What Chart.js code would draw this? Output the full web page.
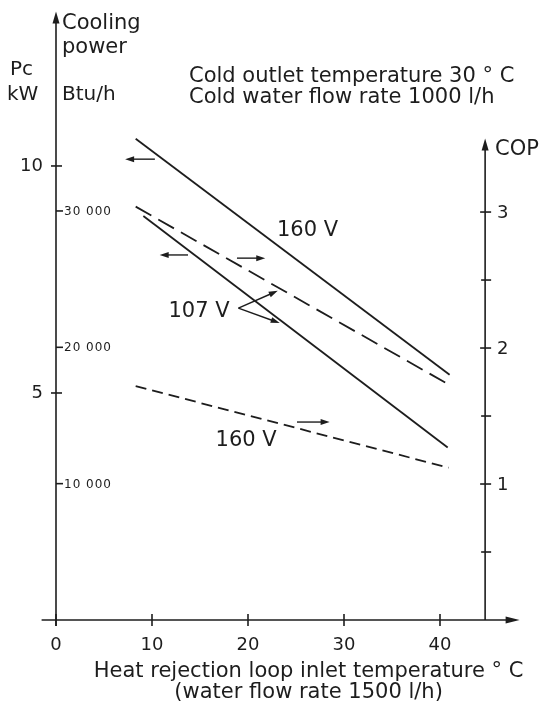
<!DOCTYPE html>
<html>
<head>
<meta charset="utf-8">
<script src="https://cdn.jsdelivr.net/npm/chart.js@4.4.0/dist/chart.umd.min.js"></script>
<style>
  html, body { margin: 0; padding: 0; background: #fff; }
  #wrap { width: 542px; height: 705px; }
</style>
</head>
<body>
<div id="wrap"><canvas id="chart" width="542" height="705"></canvas></div>
<script>
// Heat rejection loop inlet temperature (°C) -> cooling power (kW) / COP
const pc160Temp = [8.3, 41.0];
const pc160Kw = [10.6, 5.4];
const pc107Temp = [9.1, 40.8];
const pc107Kw = [8.9, 3.8];
const cop107Temp = [8.3, 40.7];
const cop107 = [3.04, 1.74];
const cop160Temp = [8.3, 40.9];
const cop160 = [1.72, 1.12];

// axis ticks
const tempTicks = [0, 10, 20, 30, 40];
const kwTicks = [5, 10];
const btuTicks = [10000, 20000, 30000];
const copTicks = [1, 2, 3];
const copMinorTicks = [0.5, 1.5, 2.5];
const copAxisAt = 44.7;   // temperature where the COP axis stands
const copAxisTop = 3.54;

// curve labels and pointer arrows (temperature, kW)
const curveLabels = ['160 V', '107 V', '160 V'];
const curveLabelTemp = [26.2, 14.9, 19.8];
const curveLabelKw = [8.57, 6.8, 3.96];
const sideArrowFrom = [10.3, 13.75, 18.85, 25.1];
const sideArrowTo = [7.2, 10.8, 21.8, 28.5];
const sideArrowKw = [10.15, 8.04, 7.97, 4.36];
const pointerTemp = [19.0, 23.1, 23.3];   // origin, then two targets
const pointerKw = [6.87, 7.25, 6.54];

const ink = '#1d1d1d';
const font = '"DejaVu Sans", "Liberation Sans", sans-serif';

function seg(ctx, x1, y1, x2, y2) {
  ctx.beginPath();
  ctx.moveTo(x1, y1);
  ctx.lineTo(x2, y2);
  ctx.stroke();
}

function head(ctx, tx, ty, dx, dy, len, half) {
  const bx = tx - dx * len, by = ty - dy * len;
  ctx.beginPath();
  ctx.moveTo(tx, ty);
  ctx.lineTo(bx - dy * half, by + dx * half);
  ctx.lineTo(bx + dy * half, by - dx * half);
  ctx.closePath();
  ctx.fill();
}

function arrow(ctx, x1, y1, x2, y2, len, half) {
  const d = Math.hypot(x2 - x1, y2 - y1);
  const dx = (x2 - x1) / d, dy = (y2 - y1) / d;
  seg(ctx, x1, y1, x2 - dx * len * 0.6, y2 - dy * len * 0.6);
  head(ctx, x2, y2, dx, dy, len, half);
}

function text(ctx, str, x, y, size, align, base) {
  ctx.font = size + 'px ' + font;
  ctx.textAlign = align || 'left';
  ctx.textBaseline = base || 'alphabetic';
  ctx.fillText(str, x, y);
}

const axesPlugin = {
  id: 'axes',
  afterDatasetsDraw(chart) {
    const { ctx } = chart;
    const { x, kw, btu, cop } = chart.scales;
    const x0 = x.getPixelForValue(0);
    const y0 = kw.getPixelForValue(0);
    const xc = x.getPixelForValue(copAxisAt);
    ctx.save();
    ctx.strokeStyle = ink;
    ctx.fillStyle = ink;
    ctx.lineWidth = 1.6;

    // left axis (kW / Btu/h)
    seg(ctx, x0, y0 + 6, x0, kw.top + 8);
    head(ctx, x0, kw.top, 0, -1, 12, 3.5);
    kwTicks.forEach(v => {
      const py = kw.getPixelForValue(v);
      seg(ctx, x0 - 5, py, x0 + 6, py);
      text(ctx, String(v), x0 - 13, py, 18, 'right', 'middle');
    });
    ctx.save();
    ctx.letterSpacing = '1px';
    btuTicks.forEach(v => {
      const py = btu.getPixelForValue(v);
      seg(ctx, x0, py, x0 + 7, py);
      const s = String(v);
      text(ctx, s.slice(0, s.length - 3) + ' ' + s.slice(-3), x0 + 8, py + 1, 12, 'left', 'middle');
    });
    ctx.restore();

    // right axis (COP)
    const copTop = cop.getPixelForValue(copAxisTop);
    seg(ctx, xc, y0, xc, copTop + 8);
    head(ctx, xc, copTop, 0, -1, 12, 3.5);
    copTicks.forEach(v => {
      const py = cop.getPixelForValue(v);
      seg(ctx, xc - 5, py, xc + 6, py);
      text(ctx, String(v), xc + 12, py + 1, 18, 'left', 'middle');
    });
    copMinorTicks.forEach(v => {
      const py = cop.getPixelForValue(v);
      seg(ctx, xc - 4, py, xc + 6, py);
    });

    // x axis
    seg(ctx, x.left, y0, x.right - 10, y0);
    head(ctx, x.right - 2, y0, 1, 0, 14, 3.5);
    tempTicks.forEach(v => {
      const px = x.getPixelForValue(v);
      seg(ctx, px, y0 - 6, px, y0 + 6);
      text(ctx, String(v), px, y0 + 30, 18, 'center');
    });

    // axis titles
    text(ctx, 'Cooling', x0 + 6, 29, 21);
    text(ctx, 'power', x0 + 6, 53, 21);
    text(ctx, 'Pc', 10, 75, 20);
    text(ctx, 'kW', 7, 100, 20);
    text(ctx, 'Btu/h', x0 + 6, 100, 20);
    text(ctx, 'COP', xc + 10, copTop + 16, 21);
    text(ctx, 'Cold outlet temperature 30 \u00b0 C', 189, 82, 21);
    text(ctx, 'Cold water flow rate 1000 l/h', 189, 103, 21);
    const midX = (x.left + x.right) / 2 + 27;
    text(ctx, 'Heat rejection loop inlet temperature \u00b0 C', midX, 677, 21, 'center');
    text(ctx, '(water flow rate 1500 l/h)', midX, 698, 21, 'center');

    // curve labels
    curveLabels.forEach((s, i) => {
      text(ctx, s, x.getPixelForValue(curveLabelTemp[i]), kw.getPixelForValue(curveLabelKw[i]), 21, 'center', 'middle');
    });

    // arrows showing which axis each curve reads on
    ctx.lineWidth = 1.4;
    sideArrowFrom.forEach((f, i) => {
      const py = kw.getPixelForValue(sideArrowKw[i]);
      arrow(ctx, x.getPixelForValue(f), py, x.getPixelForValue(sideArrowTo[i]), py, 9, 3);
    });
    const ox = x.getPixelForValue(pointerTemp[0]), oy = kw.getPixelForValue(pointerKw[0]);
    for (let i = 1; i < pointerTemp.length; i++) {
      arrow(ctx, ox, oy, x.getPixelForValue(pointerTemp[i]), kw.getPixelForValue(pointerKw[i]), 9, 3);
    }
    ctx.restore();
  }
};

const pts = (xs, ys) => xs.map((v, i) => ({ x: v, y: ys[i] }));

new Chart(document.getElementById('chart').getContext('2d'), {
  type: 'line',
  data: {
    datasets: [
      { label: 'Pc 160 V', data: pts(pc160Temp, pc160Kw), yAxisID: 'kw' },
      { label: 'Pc 107 V', data: pts(pc107Temp, pc107Kw), yAxisID: 'kw' },
      { label: 'COP 107 V', data: pts(cop107Temp, cop107), yAxisID: 'cop', borderDash: [18, 8] },
      { label: 'COP 160 V', data: pts(cop160Temp, cop160), yAxisID: 'cop', borderDash: [11, 6] }
    ]
  },
  options: {
    responsive: false,
    animation: false,
    layout: { padding: { left: 41.6, right: 20.4, top: 11.6, bottom: 85 } },
    elements: {
      point: { radius: 0 },
      line: { borderColor: ink, borderWidth: 1.8, tension: 0 }
    },
    plugins: {
      legend: { display: false },
      tooltip: { enabled: false }
    },
    scales: {
      x: { type: 'linear', min: -1.5, max: 48.5, display: false },
      kw: { type: 'linear', position: 'left', min: 0, max: 13.4, display: false },
      btu: { type: 'linear', position: 'left', min: 0, max: 13.4 * 3330, display: false },
      cop: { type: 'linear', position: 'right', min: 0, max: 4.474, display: false }
    }
  },
  plugins: [axesPlugin]
});
</script>
</body>
</html>
